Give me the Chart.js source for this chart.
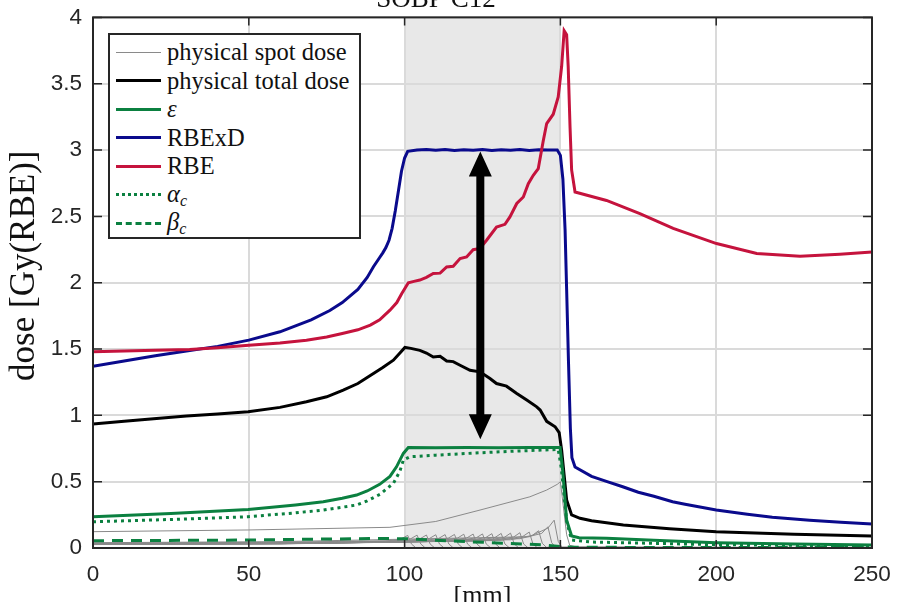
<!DOCTYPE html>
<html>
<head>
<meta charset="utf-8">
<script src="https://cdn.jsdelivr.net/npm/chart.js@4.4.1/dist/chart.umd.min.js"></script>
<style>
  html, body { margin: 0; padding: 0; background: #fff; overflow: hidden; }
  body { width: 897px; height: 602px; position: relative; }
  #wrap { position: absolute; left: 0; top: -22px; width: 897px; height: 642px; }
  #legend {
    position: absolute; left: 108px; top: 33px; width: 249px; height: 202px;
    background: #fff; border: 2px solid #262626;
    font-family: "Liberation Serif", "DejaVu Serif", serif; font-size: 24.5px; color: #111;
  }
  #legend .row { position: absolute; left: 0; height: 28px; display: flex; align-items: center; white-space: nowrap; }
  #legend .sample { width: 45px; margin-left: 6px; margin-right: 6px; }
  #legend sub { font-size: 16px; font-style: italic; vertical-align: -4px; }
</style>
</head>
<body>
<div id="wrap"><canvas id="doseChart"></canvas></div>
<div id="legend"></div>
<script>
// eixos
const xTicks = [0, 50, 100, 150, 200, 250];
const yTicks = [0, 0.5, 1, 1.5, 2, 2.5, 3, 3.5, 4];
const sobpRange = [100, 150];      // faixa sombreada (mm)
const arrowX = 124.3;              // seta dupla
const arrowSpan = [0.82, 2.99];

// RBExD
const rbexdX = [0, 10, 20, 30, 40, 50, 60, 70, 76, 80, 85, 88, 90, 92, 93, 94, 95, 96, 97, 98, 99, 100, 101,
  104, 107, 110, 113, 116, 119, 122, 125, 128, 131, 134, 137, 140, 143, 146, 149,
  150, 150.8, 151.5, 152, 152.6, 153.2, 153.7, 154.7, 160, 165, 170, 175, 180, 186, 190, 200, 210, 218, 230, 240, 250];
const rbexd = [1.37, 1.41, 1.45, 1.485, 1.52, 1.567, 1.63, 1.72, 1.79, 1.85, 1.95, 2.04, 2.12, 2.19, 2.225, 2.265, 2.32, 2.41, 2.54, 2.69, 2.84, 2.94, 2.99,
  3.0, 3.005, 2.998, 3.004, 2.997, 3.003, 2.998, 3.004, 2.997, 3.003, 2.998, 3.004, 2.997, 3.003, 3.0, 3.0,
  2.96, 2.78, 2.4, 1.95, 1.4, 0.9, 0.68, 0.61, 0.54, 0.5, 0.462, 0.42, 0.39, 0.349, 0.33, 0.286, 0.255, 0.231, 0.21, 0.195, 0.181];

// RBE
const rbeX = [0, 10, 20, 31, 40, 50, 60, 68.5, 75, 80, 85, 89, 92, 95.3, 97.5, 99.1, 101.2, 103, 104.9, 107, 109.2, 111.4,
  113.5, 115.6, 117.8, 119.9, 122, 124.2, 126.3, 129.5, 132.2, 133.8, 136, 138.1, 139.7, 141.3, 142.9, 144.5, 145.6,
  147.7, 149.3, 150.4, 151.2, 152, 152.5, 153.1, 153.6, 154.7, 164.8, 175.5, 186.2, 200.1, 213, 226.9, 239.7, 250];
const rbe = [1.479, 1.485, 1.49, 1.497, 1.51, 1.529, 1.545, 1.567, 1.59, 1.617, 1.645, 1.68, 1.72, 1.793, 1.85, 1.918, 1.999, 2.01, 2.02, 2.04, 2.069, 2.072,
  2.119, 2.124, 2.182, 2.194, 2.249, 2.258, 2.32, 2.42, 2.44, 2.496, 2.597, 2.646, 2.747, 2.81, 2.86, 3.07, 3.2,
  3.27, 3.4, 3.63, 3.9, 3.87, 3.63, 3.17, 2.85, 2.684, 2.62, 2.52, 2.41, 2.295, 2.22, 2.2, 2.215, 2.232];

// dose física total
const totalX = [0, 10, 20.4, 30, 40, 49.8, 60, 68.5, 75, 80.3, 85, 90, 93, 96.4, 98.5, 100.1, 102, 104.9, 107, 109.2, 111.4,
  113.5, 115.6, 117.8, 121, 124.2, 127.4, 129.5, 132.7, 136, 139.2, 142.4, 143.5, 145.6, 148.3, 149.6, 150.4, 151.2, 152,
  153.6, 156.3, 160, 170.2, 185, 200, 225, 250];
const totalDose = [0.934, 0.955, 0.977, 0.995, 1.01, 1.027, 1.06, 1.102, 1.14, 1.19, 1.24, 1.316, 1.36, 1.416, 1.47, 1.512, 1.505, 1.49, 1.47, 1.44, 1.445,
  1.41, 1.405, 1.378, 1.34, 1.328, 1.278, 1.24, 1.22, 1.165, 1.115, 1.064, 1.04, 0.955, 0.914, 0.87, 0.738, 0.55, 0.362,
  0.249, 0.224, 0.205, 0.173, 0.145, 0.123, 0.103, 0.09];

// epsilon
const epsX = [0, 25, 49.8, 65, 73.9, 80, 84.6, 88, 92, 95.3, 97.4, 99.6, 101.2, 110, 120, 130, 140, 149.9, 150.7, 152, 153.6, 156, 164.8, 180, 200, 225, 250];
const eps = [0.236, 0.26, 0.291, 0.325, 0.349, 0.375, 0.399, 0.43, 0.48, 0.54, 0.612, 0.713, 0.758, 0.755, 0.757, 0.755, 0.757, 0.758, 0.59, 0.21, 0.09, 0.078, 0.073, 0.058, 0.04, 0.03, 0.023];

// alpha_c
const alphaX = [0, 25, 49.8, 65, 73.9, 84.6, 88, 92.1, 96.4, 98.5, 99.6, 101.7, 110, 124.2, 135, 149.3, 150.3, 152, 153.6, 160, 200, 250];
const alphaC = [0.198, 0.215, 0.236, 0.265, 0.286, 0.324, 0.355, 0.405, 0.487, 0.58, 0.663, 0.688, 0.7, 0.718, 0.73, 0.743, 0.6, 0.2, 0.06, 0.045, 0.025, 0.015];

// beta_c
const betaX = [0, 50, 90, 100, 120, 145, 150, 155, 250];
const betaC = [0.055, 0.06, 0.072, 0.07, 0.048, 0.023, 0.01, 0.005, 0.003];

// doses físicas de cada spot: pares [mm, Gy]
const spotCurves = [
  [[0, 0.026], [60, 0.031], [92, 0.042], [99, 0.07], [101, 0.095], [102.2, 0.03], [103.5, 0.004], [250, 0.001]],
  [[0, 0.027], [60, 0.032], [95, 0.044], [102, 0.07], [104, 0.097], [105.2, 0.03], [106.5, 0.004], [250, 0.001]],
  [[0, 0.027], [60, 0.032], [98, 0.045], [105, 0.07], [107, 0.098], [108.2, 0.03], [109.5, 0.004], [250, 0.001]],
  [[0, 0.028], [60, 0.033], [101, 0.046], [108, 0.072], [110, 0.1], [111.2, 0.03], [112.5, 0.004], [250, 0.001]],
  [[0, 0.028], [60, 0.033], [104, 0.047], [111, 0.073], [113, 0.101], [114.2, 0.03], [115.5, 0.004], [250, 0.001]],
  [[0, 0.029], [60, 0.034], [107, 0.048], [114, 0.074], [116, 0.102], [117.2, 0.03], [118.5, 0.004], [250, 0.001]],
  [[0, 0.029], [60, 0.034], [110, 0.049], [117, 0.075], [119, 0.104], [120.2, 0.03], [121.5, 0.004], [250, 0.001]],
  [[0, 0.03], [60, 0.035], [113, 0.05], [120, 0.076], [122, 0.105], [123.2, 0.03], [124.5, 0.004], [250, 0.001]],
  [[0, 0.03], [60, 0.035], [116, 0.051], [123, 0.077], [125, 0.106], [126.2, 0.03], [127.5, 0.004], [250, 0.001]],
  [[0, 0.031], [60, 0.036], [119, 0.052], [126, 0.078], [128, 0.108], [129.2, 0.03], [130.5, 0.004], [250, 0.001]],
  [[0, 0.031], [60, 0.036], [122, 0.053], [129, 0.079], [131, 0.11], [132.2, 0.03], [133.5, 0.004], [250, 0.001]],
  [[0, 0.032], [60, 0.037], [125, 0.054], [132, 0.08], [134, 0.112], [135.2, 0.03], [136.5, 0.004], [250, 0.001]],
  [[0, 0.032], [60, 0.037], [128, 0.056], [135, 0.083], [137, 0.115], [138.2, 0.03], [139.5, 0.004], [250, 0.001]],
  [[0, 0.033], [60, 0.038], [131, 0.058], [138, 0.088], [140, 0.12], [141.2, 0.03], [142.5, 0.004], [250, 0.001]],
  [[0, 0.034], [60, 0.04], [134, 0.062], [141, 0.095], [143, 0.13], [144.2, 0.035], [145.5, 0.005], [250, 0.001]],
  [[0, 0.036], [60, 0.043], [137, 0.07], [144, 0.11], [146, 0.16], [147.2, 0.04], [148.5, 0.005], [250, 0.001]],
  [[0, 0.04], [60, 0.048], [140, 0.085], [146, 0.15], [148, 0.21], [149.3, 0.05], [150.5, 0.006], [250, 0.002]],
  [[0, 0.123], [50, 0.136], [95.3, 0.156], [110, 0.2], [124.2, 0.286], [140.2, 0.386], [145.6, 0.437], [149, 0.48], [150, 0.5],
    [151, 0.3], [152, 0.1], [153, 0.02], [155, 0.008], [250, 0.004]]
];

const GREEN = "#0b8040";
const BLUE = "#0a0a8c";
const RED = "#c5133d";
const yLabel = "dose [Gy(RBE)]";

function pts(xs, ys) {
  return xs.map((x, i) => ({ x: x, y: ys[i] }));
}

const datasets = [];
spotCurves.forEach((c, i) => {
  datasets.push({
    label: i === 0 ? "physical spot dose" : "",
    data: c.map((p) => ({ x: p[0], y: p[1] })),
    borderColor: "#8a8a8a", borderWidth: 1, order: 20,
  });
});
datasets.push(
  { label: "physical total dose", data: pts(totalX, totalDose), borderColor: "#000", borderWidth: 3, order: 6 },
  { label: "ε", data: pts(epsX, eps), borderColor: GREEN, borderWidth: 3, order: 5 },
  { label: "RBExD", data: pts(rbexdX, rbexd), borderColor: BLUE, borderWidth: 3, order: 4 },
  { label: "RBE", data: pts(rbeX, rbe), borderColor: RED, borderWidth: 3, order: 3 },
  { label: "αc", data: pts(alphaX, alphaC), borderColor: GREEN, borderWidth: 3, borderDash: [3, 4], order: 2 },
  { label: "βc", data: pts(betaX, betaC), borderColor: GREEN, borderWidth: 3, borderDash: [11, 8], order: 1 }
);
datasets.forEach((d) => { d.pointRadius = 0; d.fill = false; d.tension = 0; });

// fundo, faixa cinza, caixa, ticks para dentro, seta e rótulo do eixo y
const decorPlugin = {
  id: "decor",
  beforeDraw(chart) {
    const { ctx, chartArea: a, scales } = chart;
    ctx.save();
    ctx.fillStyle = "#fff";
    ctx.fillRect(0, 0, chart.width, chart.height);
    const x0 = scales.x.getPixelForValue(sobpRange[0]);
    const x1 = scales.x.getPixelForValue(sobpRange[1]);
    ctx.fillStyle = "#e8e8e8";
    ctx.fillRect(x0, a.top, x1 - x0, a.bottom - a.top);
    ctx.restore();
  },
  afterDatasetsDraw(chart) {
    const { ctx, chartArea: a, scales } = chart;
    ctx.save();
    // seta dupla
    const ax = scales.x.getPixelForValue(arrowX);
    const yTop = scales.y.getPixelForValue(arrowSpan[1]);
    const yBot = scales.y.getPixelForValue(arrowSpan[0]);
    ctx.fillStyle = "#000";
    ctx.fillRect(ax - 4, yTop + 20, 8, yBot - yTop - 40);
    ctx.beginPath();
    ctx.moveTo(ax, yTop); ctx.lineTo(ax - 11.5, yTop + 25); ctx.lineTo(ax + 11.5, yTop + 25); ctx.closePath();
    ctx.moveTo(ax, yBot); ctx.lineTo(ax - 11.5, yBot - 25); ctx.lineTo(ax + 11.5, yBot - 25); ctx.closePath();
    ctx.fill();
    // caixa
    ctx.strokeStyle = "#262626";
    ctx.lineWidth = 1.5;
    xTicks.forEach((v) => {
      const px = scales.x.getPixelForValue(v);
      ctx.beginPath();
      ctx.moveTo(px, a.bottom); ctx.lineTo(px, a.bottom - 8);
      ctx.moveTo(px, a.top); ctx.lineTo(px, a.top + 8);
      ctx.stroke();
    });
    yTicks.forEach((v) => {
      const py = scales.y.getPixelForValue(v);
      ctx.beginPath();
      ctx.moveTo(a.left, py); ctx.lineTo(a.left + 9, py);
      ctx.moveTo(a.right, py); ctx.lineTo(a.right - 9, py);
      ctx.stroke();
    });
    ctx.lineWidth = 2;
    ctx.strokeRect(a.left, a.top, a.right - a.left, a.bottom - a.top);
    // rótulo do eixo y (um pouco acima do centro, como no original)
    ctx.translate(25, (a.top + a.bottom) / 2 - 17);
    ctx.rotate(-Math.PI / 2);
    ctx.fillStyle = "#111";
    ctx.font = "35px " + serif;
    ctx.textAlign = "center";
    ctx.textBaseline = "middle";
    ctx.fillText(yLabel, 0, 0);
    ctx.restore();
  },
};

const serif = "'Liberation Serif', 'DejaVu Serif', serif";
const sans = "'Liberation Sans', Arial, sans-serif";

new Chart(document.getElementById("doseChart"), {
  type: "line",
  data: { datasets: datasets },
  plugins: [decorPlugin],
  options: {
    responsive: true,
    maintainAspectRatio: false,
    animation: false,
    layout: { padding: { left: 0, right: 25, top: 0, bottom: 0 } },
    plugins: {
      legend: { display: false },
      tooltip: { enabled: false },
      title: {
        display: true,
        text: "SOBP C12",
        color: "#111",
        font: { family: serif, size: 27, weight: "normal" },
        padding: { top: 6, bottom: 1 },
      },
    },
    scales: {
      x: {
        type: "linear",
        min: 0, max: 250,
        afterBuildTicks: (s) => { s.ticks = xTicks.map((v) => ({ value: v })); },
        afterFit: (s) => { s.height = 72; s.paddingLeft = 0; s.paddingRight = 0; },
        grid: { color: "#dadada", lineWidth: 2, drawTicks: false },
        border: { display: false },
        ticks: { color: "#262626", font: { family: sans, size: 22.5 }, padding: 13, maxRotation: 0 },
        title: { display: true, text: "[mm]", color: "#111", font: { family: serif, size: 26 }, padding: { top: 0, bottom: 8 } },
      },
      y: {
        type: "linear",
        min: 0, max: 4,
        afterBuildTicks: (s) => { s.ticks = yTicks.map((v) => ({ value: v })); },
        afterFit: (s) => { s.width = 93; },
        grid: { color: "#dadada", lineWidth: 2, drawTicks: false },
        border: { display: false },
        ticks: { color: "#262626", font: { family: sans, size: 22.5 }, padding: 11, callback: (v) => String(v) },
      },
    },
  },
});

// legenda em HTML
const legendItems = [
  { html: "physical spot dose", style: "border-top:1px solid #8a8a8a" },
  { html: "physical total dose", style: "border-top:3px solid #000" },
  { html: "<i>ε</i>", style: "border-top:3px solid " + GREEN },
  { html: "RBExD", style: "border-top:3px solid " + BLUE },
  { html: "RBE", style: "border-top:3px solid " + RED },
  { html: "<i>α</i><sub>c</sub>", style: "border-top:3px dotted " + GREEN },
  { html: "<i>β</i><sub>c</sub>", style: "border-top:3px dashed " + GREEN },
];
const legendEl = document.getElementById("legend");
legendItems.forEach((it, i) => {
  const row = document.createElement("div");
  row.className = "row";
  row.style.top = (3 + i * 28.5) + "px";
  row.innerHTML = '<span class="sample" style="' + it.style + '"></span><span>' + it.html + "</span>";
  legendEl.appendChild(row);
});
</script>
</body>
</html>
